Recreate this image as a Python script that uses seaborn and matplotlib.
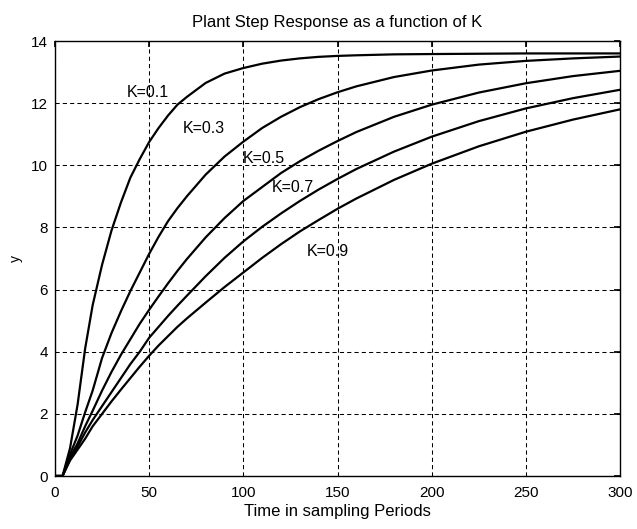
import matplotlib
matplotlib.use("Agg")
import matplotlib.pyplot as plt
import seaborn as sns
import pandas as pd

# Time samples (sampling periods)
t = [0, 4, 8, 12, 16, 20, 25, 30, 35, 40, 45, 50, 55, 60, 65, 70, 80, 90, 100,
     110, 120, 130, 140, 150, 160, 180, 200, 225, 250, 275, 300]

# Step responses
y_k01 = [0, 0, 0.9, 2.3, 4.1, 5.5, 6.8, 7.9, 8.8, 9.6, 10.2, 10.75, 11.2, 11.6, 11.95, 12.2,
         12.65, 12.95, 13.13, 13.27, 13.37, 13.44, 13.49, 13.52, 13.54, 13.57, 13.58,
         13.59, 13.6, 13.6, 13.6]
y_k03 = [0, 0, 0.7, 1.3, 2.05, 2.75, 3.8, 4.6, 5.3, 5.95, 6.55, 7.15, 7.7, 8.2, 8.62, 9.0,
         9.7, 10.28, 10.76, 11.2, 11.56, 11.87, 12.13, 12.35, 12.54, 12.84, 13.05,
         13.24, 13.36, 13.44, 13.5]
y_k05 = [0, 0, 0.6, 1.05, 1.6, 2.1, 2.75, 3.35, 3.9, 4.4, 4.9, 5.35, 5.78, 6.2, 6.6, 6.98,
         7.68, 8.3, 8.85, 9.3, 9.75, 10.13, 10.47, 10.78, 11.07, 11.56, 11.95,
         12.34, 12.64, 12.87, 13.04]
y_k07 = [0, 0, 0.55, 0.95, 1.4, 1.8, 2.25, 2.7, 3.15, 3.6, 4.0, 4.45, 4.8, 5.15, 5.48, 5.8,
         6.43, 7.02, 7.55, 8.02, 8.45, 8.85, 9.22, 9.56, 9.88, 10.44, 10.92,
         11.42, 11.83, 12.16, 12.43]
y_k09 = [0, 0, 0.5, 0.85, 1.2, 1.6, 2.0, 2.4, 2.78, 3.15, 3.52, 3.87, 4.2, 4.5, 4.8, 5.07,
         5.58, 6.08, 6.55, 7.02, 7.46, 7.87, 8.24, 8.6, 8.93, 9.53, 10.05,
         10.61, 11.08, 11.47, 11.8]

k_labels = ["K=0.1", "K=0.3", "K=0.5", "K=0.7", "K=0.9"]
series = [y_k01, y_k03, y_k05, y_k07, y_k09]

title = "Plant Step Response as a function of K"
xlabel = "Time in sampling Periods"
ylabel = "y"
xticks = [0, 50, 100, 150, 200, 250, 300]
yticks = [0, 2, 4, 6, 8, 10, 12, 14]

# annotation anchors (data coords)
label_pos = [(38.2, 12.33), (68.0, 11.2), (99.8, 10.23), (115.2, 9.3), (133.8, 7.24)]

rows = []
for lab, ys in zip(k_labels, series):
    for tt, yy in zip(t, ys):
        rows.append({"t": tt, "y": yy, "K": lab})
df = pd.DataFrame(rows)

sns.set_theme(style="white")
plt.rcParams["font.family"] = ["Liberation Sans", "DejaVu Sans"]

fig = plt.figure(figsize=(6.37, 5.29), dpi=100)
ax = fig.add_axes([55 / 637, 1 - 476 / 529, (620 - 55) / 637, (476 - 41) / 529])

sns.lineplot(data=df, x="t", y="y", hue="K", palette=["black"] * 5,
             estimator=None, linewidth=1.6, legend=False, ax=ax)

for lab, (px, py) in zip(k_labels, label_pos):
    ax.text(px, py, lab, ha="left", va="center", fontsize=11.5, color="black")

ax.set_xlim(0, 300)
ax.set_ylim(0, 14)
ax.set_xticks(xticks)
ax.set_yticks(yticks)
ax.grid(True, color="black", linestyle=(0, (4, 3)), linewidth=0.75)
for s in ax.spines.values():
    s.set_color("black")
    s.set_linewidth(1.0)
ax.tick_params(axis="x", labelsize=11, colors="black", direction="in",
               length=4, top=True, pad=7)
ax.tick_params(axis="y", labelsize=11, colors="black", direction="in",
               length=4, right=True, pad=5)
ax.set_title(title, fontsize=12, color="black", pad=10)
ax.set_xlabel(xlabel, fontsize=12, color="black", labelpad=3)
ax.set_ylabel(ylabel, fontsize=10, color="black", labelpad=6)

fig.savefig("out.png", dpi=100)
